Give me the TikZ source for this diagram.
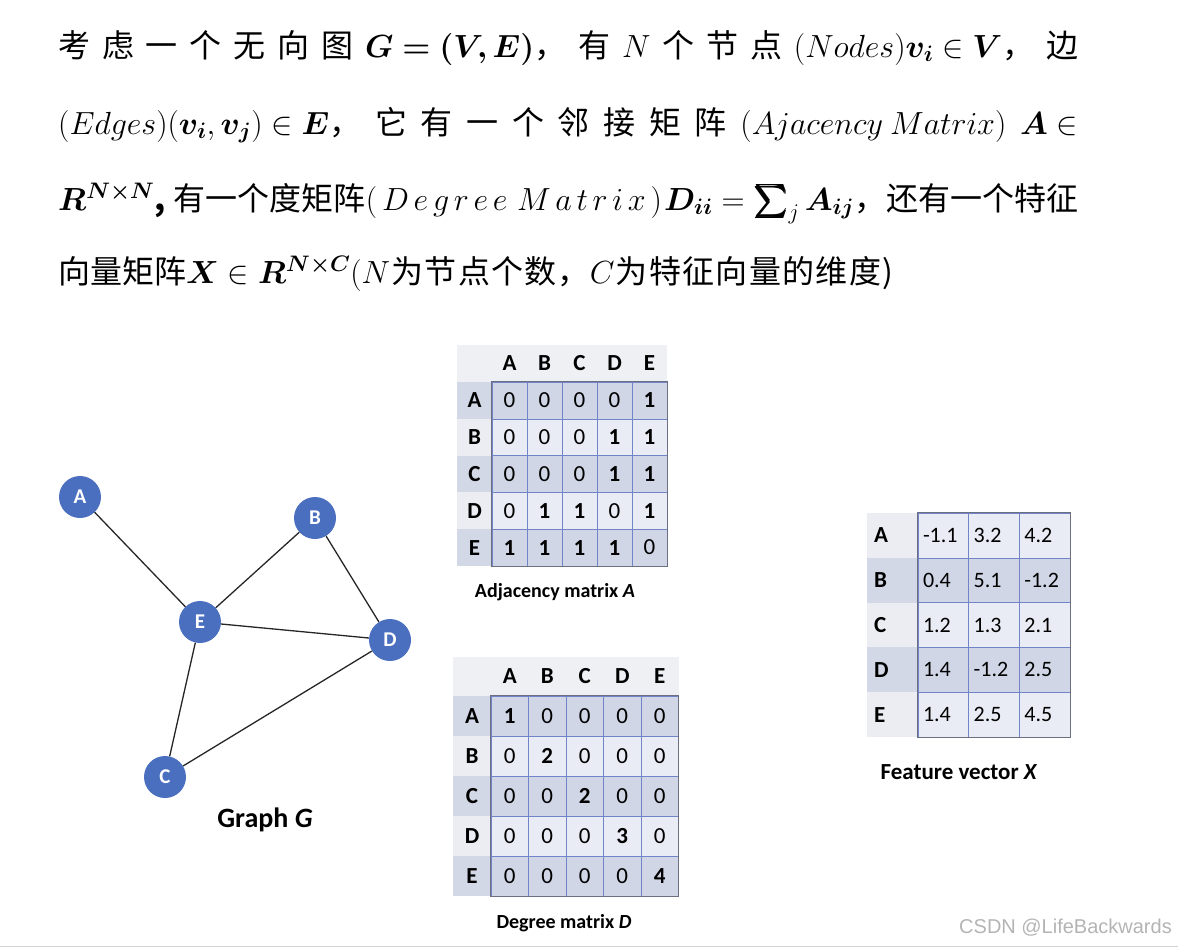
\RequirePackage{fix-cm}
\documentclass[tikz,border=0pt]{standalone}
\usepackage{amsmath,amssymb}
\usepackage{bm}
\usepackage[no-math]{fontspec}
\setmainfont{Carlito}
\newfontfamily\cjk{Noto Sans CJK SC}
\newfontfamily\wmfont{Liberation Sans}
\usepackage{xcolor}
\usepackage{tikz}
\usetikzlibrary{positioning}
\definecolor{nodeblue}{HTML}{4A6FBF}
\definecolor{rowdark}{HTML}{D0D6E6}
\definecolor{rowlight}{HTML}{E9ECF4}
\definecolor{labdark}{HTML}{D3D8E6}
\definecolor{lablight}{HTML}{EBEDF2}
\definecolor{hdrgray}{HTML}{EEF0F4}
\definecolor{gridblue}{HTML}{7284C8}
\definecolor{bordergray}{HTML}{6B6F80}
\definecolor{wmgray}{HTML}{B4B4B4}
\newcommand\gap{\hspace{0pt plus 1fil}}

\begin{document}
\begin{tikzpicture}[
    x = 1pt, y = -1pt,
    textline/.style = {
      anchor = base west, inner sep = 0pt,
      font = \cjk\fontsize{32}{38}\selectfont
    },
    gnode/.style = {
      circle, fill = nodeblue, draw = none, minimum size = 42pt,
      inner sep = 0pt, text = white, font = \bfseries\fontsize{21}{21}\selectfont
    },
    link/.style = {
      line width = 1.3pt, draw = black!85
    },
    capt/.style = {
      inner sep = 0pt, font = \bfseries\fontsize{20}{20}\selectfont
    },
    % cells of the two 5x5 matrices
    acell/.style = {
      rectangle, minimum width = 35pt, minimum height = 36.8pt, inner sep = 0pt,
      draw = gridblue, line width = 0.6pt, font = \fontsize{23}{23}\selectfont
    },
    alabel/.style = {
      rectangle, minimum width = 35pt, minimum height = 36.8pt, inner sep = 0pt,
      font = \bfseries\fontsize{23}{23}\selectfont
    },
    dcell/.style = {
      rectangle, minimum width = 37.5pt, minimum height = 40pt, inner sep = 0pt,
      draw = gridblue, line width = 0.6pt, font = \fontsize{23}{23}\selectfont
    },
    dlabel/.style = {
      rectangle, minimum width = 37.5pt, minimum height = 40pt, inner sep = 0pt,
      font = \bfseries\fontsize{23}{23}\selectfont
    },
    % cells of the feature table
    fcell/.style = {
      rectangle, text width = 40.67pt, inner xsep = 5pt, inner ysep = 0pt,
      minimum height = 44.8pt, align = left,
      draw = gridblue, line width = 0.6pt, font = \fontsize{22}{22}\selectfont
    },
    flabel/.style = {
      rectangle, minimum width = 51pt, minimum height = 44.8pt, inner sep = 0pt,
      text width = 37pt, align = left, font = \bfseries\fontsize{23}{23}\selectfont
    },
    tborder/.style = {
      draw = bordergray, line width = 1pt
    },
    ]
\useasboundingbox (0,0) rectangle (1178,948);

% text above the figure
\node [textline] (line1) at (58,57) {\makebox[1020pt][s]{考 虑 一 个 无 向 图 \mbox{$\bm{G=(V,E)}$}， 有 $N$ 个 节 点 \mbox{$(Nodes)\bm{v_i}\in\bm{V}$}， 边}};
\node [textline] (line2) at (58,134) {\makebox[1020pt][s]{\mbox{$(Edges)(\bm{v_i},\bm{v_j})\in\bm{E}$}， 它 有 一 个 邻 接 矩 阵 \mbox{$(Ajacency\ Matrix)$} \mbox{$\bm{A}\in$}}};
\node [textline] (line3) at (58,210) {\makebox[1020pt][s]{\mbox{$\bm{R}^{\bm{N\times N}}$}\textbf{,} 有一个度矩阵\makebox[290pt][s]{$($ $D$ $e$ $g$ $r$ $e$ $e$ \ $M$ $a$ $t$ $r$ $i$ $x$ $)$} \mbox{$\bm{D_{ii}}=\bm{\sum}_j\bm{A_{ij}}$}，还有一个特征}};
\node [textline] (line4) at (58,283) {\makebox[835pt][s]{向量矩阵\mbox{$\bm{X}\in\bm{R}^{\bm{N\times C}}$}$(N$\gap 为\gap 节\gap 点\gap 个\gap 数\gap ，$C$\gap 为\gap 特\gap 征\gap 向\gap 量\gap 的\gap 维\gap 度\gap )}};

% graph
\node [gnode] (A) at (80,497) {A};
\node [gnode] (B) at (315,518) {B};
\node [gnode] (E) at (200,622) {E};
\node [gnode] (D) at (390,640) {D};
\node [gnode] (C) at (165,777) {C};
\draw [link] (A) -- (E);
\draw [link] (B) -- (E);
\draw [link] (B) -- (D);
\draw [link] (E) -- (D);
\draw [link] (E) -- (C);
\draw [link] (C) -- (D);
\node [capt, font = \bfseries\fontsize{28}{28}\selectfont] (capG) at (265,820) {Graph \textit{G}};

% adjacency matrix
\fill [hdrgray] (457,345) rectangle (667,382);
\foreach \h [count=\c] in {A,B,C,D,E} {
  \node [alabel] (adj-h-\c) at ({492+35*(\c-0.5)},363.5) {\h};
  \ifodd\c \def\labfill{labdark}\else\def\labfill{lablight}\fi
  \node [alabel, fill = \labfill] (adj-l-\c) at (474.5,{382+36.8*(\c-0.5)}) {\h};
}
\foreach \row [count=\r] in {{0,0,0,0,1},{0,0,0,1,1},{0,0,0,1,1},{0,1,1,0,1},{1,1,1,1,0}} {
  \ifodd\r \def\rowfill{rowdark}\else\def\rowfill{rowlight}\fi
  \foreach \v [count=\c] in \row {
    \node [acell, fill = \rowfill] (adj-\r-\c) at ({492+35*(\c-0.5)},{382+36.8*(\r-0.5)})
      {\ifnum\v>0 \bfseries\fi\v};
  }
}
\draw [tborder] (adj-1-1.north west) rectangle (adj-5-5.south east);
\node [capt] (capA) at (555,592) {Adjacency matrix \textit{A}};

% degree matrix
\fill [hdrgray] (453,657) rectangle (678.5,696);
\foreach \h [count=\c] in {A,B,C,D,E} {
  \node [dlabel] (deg-h-\c) at ({491+37.5*(\c-0.5)},676.5) {\h};
  \ifodd\c \def\labfill{labdark}\else\def\labfill{lablight}\fi
  \node [dlabel, fill = \labfill] (deg-l-\c) at (472,{696+40*(\c-0.5)}) {\h};
}
\foreach \row [count=\r] in {{1,0,0,0,0},{0,2,0,0,0},{0,0,2,0,0},{0,0,0,3,0},{0,0,0,0,4}} {
  \ifodd\r \def\rowfill{rowdark}\else\def\rowfill{rowlight}\fi
  \foreach \v [count=\c] in \row {
    \node [dcell, fill = \rowfill] (deg-\r-\c) at ({491+37.5*(\c-0.5)},{696+40*(\r-0.5)})
      {\ifnum\v>0 \bfseries\fi\v};
  }
}
\draw [tborder] (deg-1-1.north west) rectangle (deg-5-5.south east);
\node [capt] (capD) at (564,923) {Degree matrix \textit{D}};

% feature vectors
\foreach \h [count=\r] in {A,B,C,D,E} {
  \ifodd\r \def\labfill{lablight}\else\def\labfill{labdark}\fi
  \node [flabel, fill = \labfill] (fv-l-\r) at (892.5,{513+44.8*(\r-0.5)}) {\h};
}
\foreach \row [count=\r] in {{-1.1,3.2,4.2},{0.4,5.1,-1.2},{1.2,1.3,2.1},{1.4,-1.2,2.5},{1.4,2.5,4.5}} {
  \ifodd\r \def\rowfill{rowlight}\else\def\rowfill{rowdark}\fi
  \foreach \v [count=\c] in \row {
    \node [fcell, fill = \rowfill] (fv-\r-\c) at ({918+50.67*(\c-0.5)},{513+44.8*(\r-0.5)}) {\v};
  }
}
\draw [tborder] (fv-1-1.north west) rectangle (fv-5-3.south east);
\node [capt, font = \bfseries\fontsize{23}{23}\selectfont] (capX) at (959,772) {Feature vector \textit{X}};

% watermark
\node [anchor = east, inner sep = 0pt, text = wmgray, font = \wmfont\fontsize{20}{20}\selectfont] (mark) at (1172,928) {CSDN @LifeBackwards};
\draw [gray!35, line width = 1.5pt] (0,946.5) -- (1178,946.5);
\end{tikzpicture}
\end{document}
